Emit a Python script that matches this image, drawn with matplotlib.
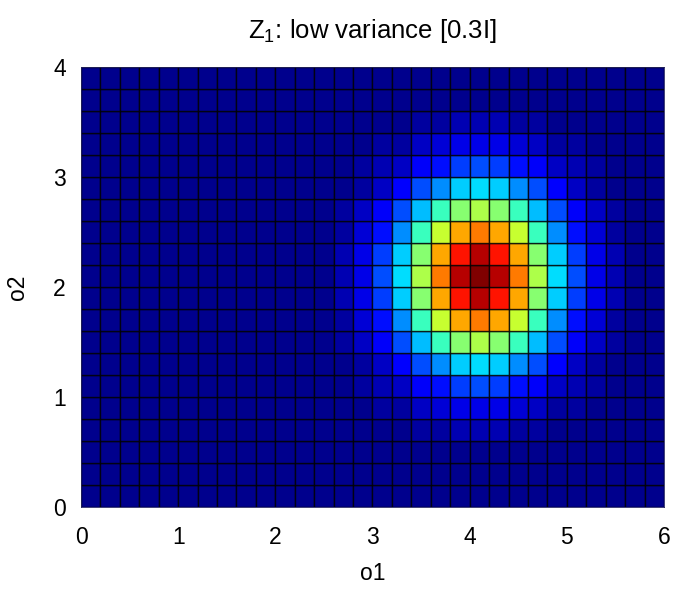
import numpy as np
import matplotlib
matplotlib.use("Agg")
import matplotlib.pyplot as plt
from matplotlib.colors import ListedColormap

plt.rcParams['font.family'] = ['Liberation Sans', 'DejaVu Sans']

# grid of the density surface (cell edges)
o1_edges = np.arange(0, 6.0001, 0.2)
o2_edges = np.arange(0, 4.0001, 0.2)

# blob (relative density, 0..1), lower-left cell sits at o1=2.6, o2=0.6
blob_o1_start = 2.6
blob_o2_start = 0.6
blob = [
    [.00, .00, .01, .01, .02, .03, .04, .04, .04, .03, .02, .01, .01, .00, .00],
    [.00, .01, .02, .03, .05, .07, .08, .09, .08, .07, .05, .03, .02, .01, .00],
    [.01, .02, .04, .06, .10, .14, .18, .19, .18, .14, .10, .06, .04, .02, .01],
    [.01, .03, .06, .12, .19, .26, .32, .34, .32, .26, .19, .12, .06, .03, .01],
    [.02, .05, .10, .19, .30, .42, .51, .55, .51, .42, .30, .19, .10, .05, .02],
    [.03, .07, .14, .26, .42, .59, .72, .77, .72, .59, .42, .26, .14, .07, .03],
    [.04, .08, .18, .32, .51, .72, .88, .94, .88, .72, .51, .32, .18, .08, .04],
    [.04, .09, .19, .34, .55, .77, .94, 1.0, .94, .77, .55, .34, .19, .09, .04],
    [.04, .08, .18, .32, .51, .72, .88, .94, .88, .72, .51, .32, .18, .08, .04],
    [.03, .07, .14, .26, .42, .59, .72, .77, .72, .59, .42, .26, .14, .07, .03],
    [.02, .05, .10, .19, .30, .42, .51, .55, .51, .42, .30, .19, .10, .05, .02],
    [.01, .03, .06, .12, .19, .26, .32, .34, .32, .26, .19, .12, .06, .03, .01],
    [.01, .02, .04, .06, .10, .14, .18, .19, .18, .14, .10, .06, .04, .02, .01],
    [.00, .01, .02, .03, .05, .07, .08, .09, .08, .07, .05, .03, .02, .01, .00],
    [.00, .00, .01, .01, .02, .03, .04, .04, .04, .03, .02, .01, .01, .00, .00],
]
xticks = [0, 1, 2, 3, 4, 5, 6]
yticks = [0, 1, 2, 3, 4]

Z = np.zeros((len(o2_edges) - 1, len(o1_edges) - 1))
blob = np.array(blob)
r0 = int(round(blob_o2_start / 0.2))
c0 = int(round(blob_o1_start / 0.2))
Z[r0:r0 + blob.shape[0], c0:c0 + blob.shape[1]] = blob

# matlab-style jet(64): starts at (0,0,0.56) instead of (0,0,0.5)
cmap = ListedColormap(plt.get_cmap('jet')(np.linspace(0.014, 1, 64)))

fig = plt.figure(figsize=(6.75, 5.92), dpi=100)
ax = fig.add_axes([0.12, 0.1436, 0.8637, 0.7432])
ax.pcolormesh(o1_edges, o2_edges, Z, cmap=cmap,
              vmin=0, vmax=1, edgecolors=(0, 0, 0, 0.8), linewidth=1.0,
              antialiased=True)
ax.set_xlim(0, 6)
ax.set_ylim(0, 4)
ax.set_xticks(xticks)
ax.set_yticks(yticks)
ax.tick_params(length=0, labelsize=16.5)
ax.tick_params(axis='x', pad=14)
ax.tick_params(axis='y', pad=11)
for s in ax.spines.values():
    s.set_linewidth(0.6)
    s.set_color('#202060')
ax.set_xlabel('o1', fontsize=16.5, labelpad=9)
ax.set_ylabel('o2', fontsize=16.5, labelpad=17)
ax.set_title(r'$\mathregular{Z_1}$: low variance [0.3I]', fontsize=18.5, pad=21)

fig.savefig('out.png', dpi=100)
